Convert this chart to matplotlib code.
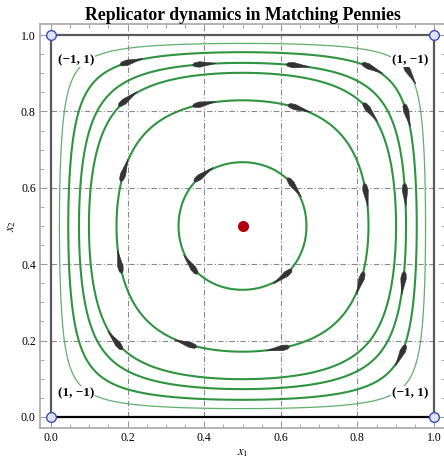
import numpy as np
import matplotlib
matplotlib.use('Agg')
import matplotlib.pyplot as plt
from matplotlib.patches import Polygon

plt.rcParams['font.family'] = ['Liberation Serif', 'DejaVu Serif']
plt.rcParams['mathtext.fontset'] = 'stix'

title = 'Replicator dynamics in Matching Pennies'

# where each closed orbit crosses x1 = 0.5 (lower branch), outermost first
orbit_y = [0.022, 0.045, 0.073, 0.099, 0.171, 0.333]
orbit_width = [0.9, 1.5, 1.5, 1.5, 1.5, 1.5]
orbit_color = ['#5fb06c', '#2f9440', '#2f9440', '#2f9440', '#2f9440', '#2f9440']

# flow arrows: rough position + which orbit they sit on
arrow_x = [0.21, 0.40, 0.645, 0.84, 0.94, 0.20, 0.40, 0.65, 0.837, 0.93,
           0.824, 0.924, 0.81, 0.92, 0.911, 0.593, 0.35, 0.167,
           0.175, 0.188, 0.394, 0.637, 0.611, 0.363]
arrow_y = [0.93, 0.93, 0.92, 0.914, 0.90, 0.834, 0.82, 0.815, 0.80, 0.79,
           0.581, 0.581, 0.35, 0.35, 0.162, 0.175, 0.188, 0.20,
           0.406, 0.647, 0.641, 0.602, 0.359, 0.398]
arrow_orbit = [1, 2, 2, 1, 0, 3, 4, 4, 3, 1,
               4, 2, 4, 2, 1, 4, 4, 3,
               4, 4, 5, 5, 5, 5]

# payoffs at the pure profiles
corner_x = [0.065, 0.937, 0.065, 0.937]
corner_y = [0.935, 0.935, 0.063, 0.063]
corner_text = ['(\u22121, 1)', '(1, \u22121)', '(1, \u22121)', '(\u22121, 1)']

ticks = [0.0, 0.2, 0.4, 0.6, 0.8, 1.0]


def H(x, y):
    return x * (1 - x) * y * (1 - y)


def gradH(x, y):
    return (1 - 2 * x) * y * (1 - y), x * (1 - x) * (1 - 2 * y)


def flow(x, y):
    # player 1 wants to match, player 2 wants to mismatch
    return x * (1 - x) * (2 * y - 1), y * (1 - y) * (1 - 2 * x)


levels = [0.25 * v * (1 - v) for v in orbit_y]

fig = plt.figure(figsize=(4.44, 4.58), dpi=100)
ax = fig.add_axes([40 / 444, 30 / 458, 405 / 444, 404 / 458])
ax.set_xlim(-0.0288, 1.0288)
ax.set_ylim(-0.0288, 1.0288)

# grid
for v in ticks[1:-1]:
    ax.plot([v, v], [0, 1], color='#8a8a8a', lw=0.8, ls=(0, (5, 2, 1, 2)), zorder=1)
    ax.plot([0, 1], [v, v], color='#8a8a8a', lw=0.8, ls=(0, (5, 2, 1, 2)), zorder=1)

# orbits
g = np.linspace(0.0005, 0.9995, 800)
X, Y = np.meshgrid(g, g)
Z = H(X, Y)
for lev, lw, col in zip(levels, orbit_width, orbit_color):
    ax.contour(X, Y, Z, levels=[lev], colors=[col], linewidths=lw, zorder=2)

# edges of the square are invariant
ax.plot([0, 1], [1, 1], color='#5a5a5a', lw=1.6, zorder=3)
ax.plot([0, 0], [0, 1], color='#5a5a5a', lw=1.6, zorder=3)
ax.plot([1, 1], [0, 1], color='#5a5a5a', lw=1.6, zorder=3)
ax.plot([0, 1], [0, 0], color='black', lw=1.6, zorder=3)

# arrows
L, W = 0.062, 0.0145
for x, y, k in zip(arrow_x, arrow_y, arrow_orbit):
    px, py = x, y
    for _ in range(30):
        gx, gy = gradH(px, py)
        h = H(px, py) - levels[k]
        n2 = gx * gx + gy * gy
        px -= h * gx / n2
        py -= h * gy / n2
    vx, vy = flow(px, py)
    nv = np.hypot(vx, vy)
    tx, ty = vx / nv, vy / nv
    nx, ny = -ty, tx
    tip = (px + 0.5 * L * tx, py + 0.5 * L * ty)
    tail = (px - 0.5 * L * tx, py - 0.5 * L * ty)
    bx, by = px - 0.2 * L * tx, py - 0.2 * L * ty
    cx, cy = px - 0.42 * L * tx, py - 0.42 * L * ty
    pts = [tip, (bx + 0.5 * W * nx, by + 0.5 * W * ny),
           (cx + 0.35 * W * nx, cy + 0.35 * W * ny), tail,
           (cx - 0.35 * W * nx, cy - 0.35 * W * ny),
           (bx - 0.5 * W * nx, by - 0.5 * W * ny)]
    ax.add_patch(Polygon(pts, closed=True, fc='#333333', ec='#333333', lw=0.4, zorder=4))

# pure profiles and the Nash equilibrium
ax.plot([0, 1, 0, 1], [0, 0, 1, 1], 'o', ms=7, mfc='#dfe2f6', mec='#3c4db4',
        mew=1.0, zorder=6, clip_on=False)
ax.plot(0.5, 0.5, 'o', ms=7, color='#b0000f', zorder=6)

for x, y, s in zip(corner_x, corner_y, corner_text):
    ax.text(x, y, s, ha='center', va='center', fontsize=9.5, fontweight='bold',
            bbox=dict(fc='white', ec='none', pad=0.8), zorder=5)

ax.set_xticks(ticks)
ax.set_yticks(ticks)
ax.set_xticks(np.arange(0, 1.001, 0.05), minor=True)
ax.set_yticks(np.arange(0, 1.001, 0.05), minor=True)
ax.set_xticklabels(['%.1f' % t for t in ticks])
ax.set_yticklabels(['%.1f' % t for t in ticks])
ax.tick_params(which='both', direction='in', top=True, right=True,
               color='#999999', labelsize=8.5, pad=3)
ax.tick_params(which='major', length=5, width=0.8)
ax.tick_params(which='minor', length=3, width=0.6)
for s in ax.spines.values():
    s.set_color('#a8a8a8')
    s.set_linewidth(1.2)

ax.set_xlabel('$x_1$', fontsize=9, labelpad=2)
ax.set_ylabel('$x_2$', fontsize=9, labelpad=2)
ax.set_title(title, fontsize=12.8, fontweight='bold', pad=1.5)

fig.savefig('out.png', dpi=100)
